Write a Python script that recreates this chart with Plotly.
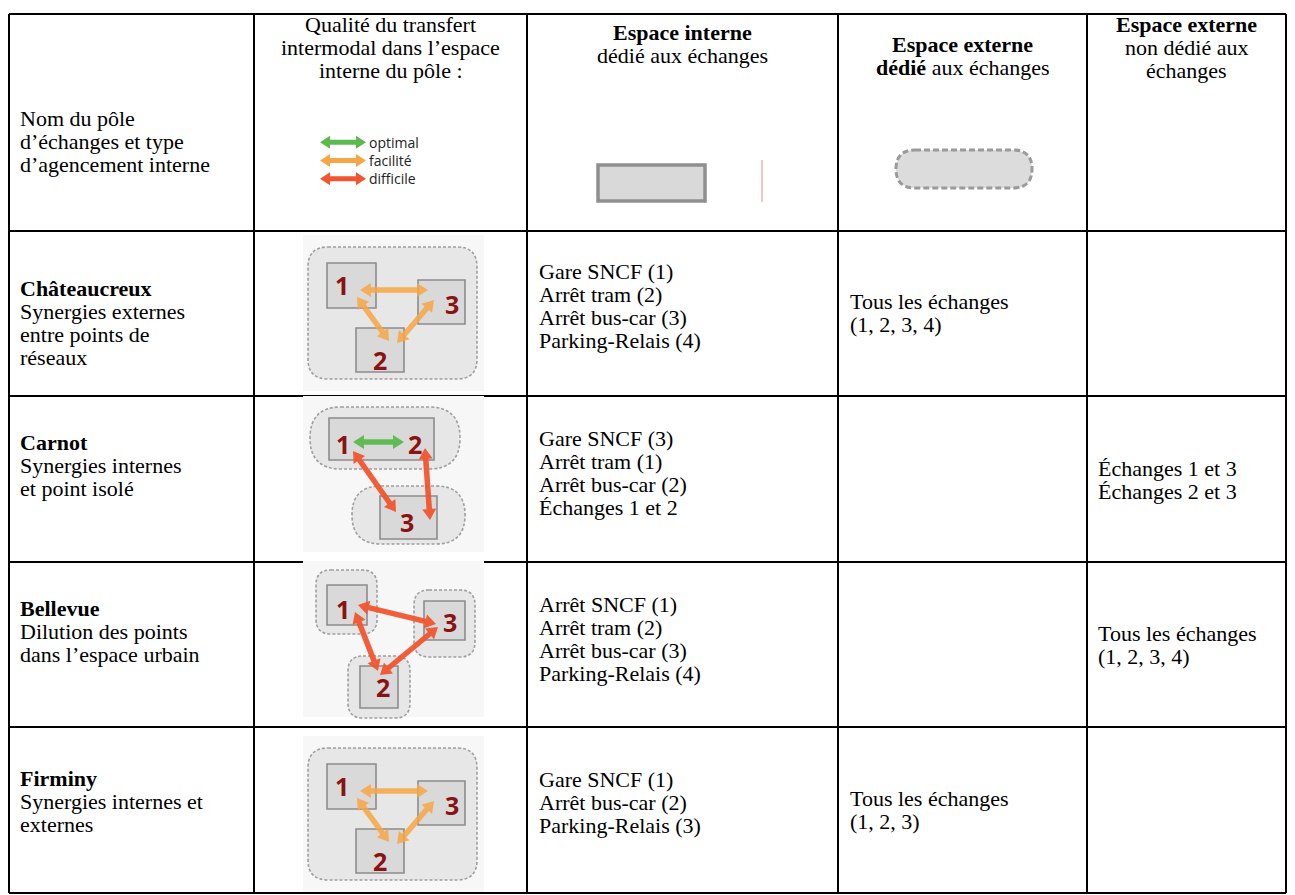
import math
import plotly.graph_objects as go

# ---------------- data ----------------
header_col1 = ["Nom du pôle", "d’échanges et type", "d’agencement interne"]
header_col2 = ["Qualité du transfert", "intermodal dans l’espace", "interne du pôle :"]
header_col3 = ["<b>Espace interne</b>", "dédié aux échanges"]
header_col4 = ["<b>Espace externe</b>", "<b>dédié</b> aux échanges"]
header_col5 = ["<b>Espace externe</b>", "non dédié aux", "échanges"]

legend_labels = ["optimal", "facilité", "difficile"]

pole_names = ["Châteaucreux", "Carnot", "Bellevue", "Firminy"]
pole_types = [
    ["Synergies externes", "entre points de", "réseaux"],
    ["Synergies internes", "et point isolé"],
    ["Dilution des points", "dans l’espace urbain"],
    ["Synergies internes et", "externes"],
]
espace_interne = [
    ["Gare SNCF (1)", "Arrêt tram (2)", "Arrêt bus-car (3)", "Parking-Relais (4)"],
    ["Gare SNCF (3)", "Arrêt tram (1)", "Arrêt bus-car (2)", "Échanges 1 et 2"],
    ["Arrêt SNCF (1)", "Arrêt tram (2)", "Arrêt bus-car (3)", "Parking-Relais (4)"],
    ["Gare SNCF (1)", "Arrêt bus-car (2)", "Parking-Relais (3)"],
]
espace_externe_dedie = [
    ["Tous les échanges", "(1, 2, 3, 4)"],
    [],
    [],
    ["Tous les échanges", "(1, 2, 3)"],
]
espace_externe_non_dedie = [
    [],
    ["Échanges 1 et 3", "Échanges 2 et 3"],
    ["Tous les échanges", "(1, 2, 3, 4)"],
    [],
]
# quality of each transfer link in each pole diagram
transfer_quality = [
    {"1-3": "facilité", "1-2": "facilité", "3-2": "facilité"},
    {"1-2": "optimal", "1-3": "difficile", "2-3": "difficile"},
    {"1-3": "difficile", "1-2": "difficile", "3-2": "difficile"},
    {"1-3": "facilité", "1-2": "facilité", "3-2": "facilité"},
]
diagram_layout = ["externe", "carnot", "dilution", "externe"]

# ---------------- styles / layout ----------------
W, H = 1295, 895
PAGE_OFF = 8  # default body margin of the html page
COL_X = [9, 254, 527, 838, 1087, 1286]
ROW_Y = [14, 231, 396, 562, 727, 893]
SERIF = "Liberation Serif"
FS = 22
LS = 23
# y of the first text line in each row, per column group
FIRST_Y_NAME = [288, 442, 608, 778]
FIRST_Y_INT = [271, 438, 604, 779]
FIRST_Y_EXT = [301, 468, 633, 798]

QUAL_COLOR = {"optimal": "#5bb94e", "facilité": "#f7a645", "difficile": "#f2552f"}
NUM_COLOR = "#8b1212"
BOX_FILL = "#d9d9d9"
BOX_LINE = "#8c8c8c"
AREA_FILL = "#e7e7e7"
AREA_LINE = "#9e9e9e"

fig = go.Figure()
shapes = []
annotations = []


def text_lines(lines, x, y0, anchor="left", size=FS, ls=LS, family=SERIF, color="black"):
    for i, t in enumerate(lines):
        annotations.append(dict(
            x=x, y=y0 + i * ls, xref="x", yref="y", text=t, showarrow=False,
            xanchor=anchor, yanchor="middle",
            font=dict(family=family, size=size, color=color),
        ))


def rrect_path(x0, y0, x1, y1, r):
    r = min(r, (x1 - x0) / 2, (y1 - y0) / 2)
    return (f"M{x0 + r},{y0} L{x1 - r},{y0} Q{x1},{y0} {x1},{y0 + r} "
            f"L{x1},{y1 - r} Q{x1},{y1} {x1 - r},{y1} L{x0 + r},{y1} "
            f"Q{x0},{y1} {x0},{y1 - r} L{x0},{y0 + r} Q{x0},{y0} {x0 + r},{y0} Z")


def arrow_path(x0, y0, x1, y1, w=5.5, hl=11, hw=14):
    dx, dy = x1 - x0, y1 - y0
    L = math.hypot(dx, dy)
    ux, uy = dx / L, dy / L
    nx, ny = -uy, ux
    ax0, ay0 = x0 + ux * hl, y0 + uy * hl
    ax1, ay1 = x1 - ux * hl, y1 - uy * hl
    pts = [
        (x0, y0),
        (ax0 + nx * hw / 2, ay0 + ny * hw / 2),
        (ax0 + nx * w / 2, ay0 + ny * w / 2),
        (ax1 + nx * w / 2, ay1 + ny * w / 2),
        (ax1 + nx * hw / 2, ay1 + ny * hw / 2),
        (x1, y1),
        (ax1 - nx * hw / 2, ay1 - ny * hw / 2),
        (ax1 - nx * w / 2, ay1 - ny * w / 2),
        (ax0 - nx * w / 2, ay0 - ny * w / 2),
        (ax0 - nx * hw / 2, ay0 - ny * hw / 2),
    ]
    return "M" + " L".join(f"{px:.1f},{py:.1f}" for px, py in pts) + " Z"


def add_area(ox, oy, x0, y0, x1, y1, r):
    shapes.append(dict(type="path", path=rrect_path(ox + x0, oy + y0, ox + x1, oy + y1, r),
                       fillcolor=AREA_FILL, line=dict(color=AREA_LINE, width=1.6, dash="3px,2px"),
                       xref="x", yref="y", layer="above"))


def add_box(ox, oy, x0, y0, x1, y1):
    shapes.append(dict(type="rect", x0=ox + x0, y0=oy + y0, x1=ox + x1, y1=oy + y1,
                       fillcolor=BOX_FILL, line=dict(color=BOX_LINE, width=1.6),
                       xref="x", yref="y", layer="above"))


def add_num(ox, oy, x, y, t):
    annotations.append(dict(x=ox + x, y=oy + y, xref="x", yref="y", text=f"<b>{t}</b>",
                            showarrow=False, xanchor="center", yanchor="middle",
                            font=dict(family="Open Sans", size=25, color=NUM_COLOR)))


def add_arrow(ox, oy, p0, p1, quality, opacity=0.9):
    shapes.append(dict(type="path",
                       path=arrow_path(ox + p0[0], oy + p0[1], ox + p1[0], oy + p1[1]),
                       fillcolor=QUAL_COLOR[quality], line=dict(width=0),
                       opacity=opacity, xref="x", yref="y", layer="above"))


# diagram geometry (pixels relative to picture origin)
GEOM = {
    "externe": dict(
        areas=[(5, 8, 174, 140, 20)],
        boxes=[(24, 24, 73, 69), (115, 41, 162, 85), (53, 89, 101, 133)],
        nums=[("1", 39, 46), ("3", 149, 65), ("2", 77, 121)],
        links={"1-3": ((57, 51), (125, 51)), "1-2": ((54, 58), (86, 102)),
               "3-2": ((131, 61), (94, 104))},
    ),
    "carnot": dict(
        areas=[(7, 7, 157, 69, 31), (49, 86, 162, 144, 29)],
        boxes=[(26, 18, 131, 60), (77, 96, 134, 139)],
        nums=[("1", 40, 44), ("2", 112, 44), ("3", 104, 122)],
        links={"1-2": ((50, 42), (101, 42)), "1-3": ((50, 51), (93, 112)),
               "2-3": ((122, 48), (127, 120))},
    ),
    "dilution": dict(
        areas=[(13, 5, 74, 69, 15), (111, 25, 172, 92, 15), (45, 91, 107, 153, 15)],
        boxes=[(24, 20, 64, 60), (121, 36, 162, 75), (57, 101, 95, 143)],
        nums=[("1", 40, 44), ("3", 147, 57), ("2", 80, 122)],
        links={"1-3": ((55, 40), (133, 59)), "1-2": ((52, 47), (75, 106)),
               "3-2": ((135, 62), (77, 110))},
    ),
}
DIAG_ORIGIN = [(303, 239), (303, 400), (303, 565), (303, 740)]

# ---------------- table grid ----------------
for x in COL_X:
    shapes.append(dict(type="line", x0=x, x1=x, y0=ROW_Y[0], y1=ROW_Y[-1],
                       line=dict(color="black", width=2), xref="x", yref="y"))
for y in ROW_Y:
    shapes.append(dict(type="line", x0=COL_X[0], x1=COL_X[-1], y0=y, y1=y,
                       line=dict(color="black", width=2), xref="x", yref="y"))

# ---------------- header ----------------
text_lines(header_col1, 18, 118)
cx2 = (COL_X[1] + COL_X[2]) / 2
text_lines(header_col2, cx2, 24, anchor="center")
cx3 = (COL_X[2] + COL_X[3]) / 2
text_lines(header_col3, cx3, 32, anchor="center")
cx4 = (COL_X[3] + COL_X[4]) / 2
text_lines(header_col4, cx4, 44, anchor="center")
cx5 = (COL_X[4] + COL_X[5]) / 2
text_lines(header_col5, cx5, 24, anchor="center")

# legend of transfer quality (one text block, arrows aligned on its lines)
LEG_FS = 14
LEG_LS = LEG_FS * 1.3
LEG_YC = 160.5
for i, lab in enumerate(legend_labels):
    yy = LEG_YC + (i - 1) * LEG_LS
    shapes.append(dict(type="path", path=arrow_path(320, yy, 366, yy, w=5, hl=10, hw=13),
                       fillcolor=QUAL_COLOR[lab], line=dict(width=0), xref="x", yref="y"))
annotations.append(dict(x=367, y=LEG_YC, xref="x", yref="y", text="<br>".join(legend_labels),
                        showarrow=False, xanchor="left", yanchor="middle", align="left",
                        font=dict(family="Open Sans", size=LEG_FS, color="#222222")))

# legend symbol: internal space
shapes.append(dict(type="rect", x0=598, y0=165, x1=705, y1=201, fillcolor=BOX_FILL,
                   line=dict(color="#8f8f8f", width=3.5), xref="x", yref="y"))
shapes.append(dict(type="line", x0=762, x1=762, y0=160, y1=202,
                   line=dict(color="#f08a8a", width=1), xref="x", yref="y"))
# legend symbol: external dedicated space
shapes.append(dict(type="path", path=rrect_path(896, 150, 1032, 188, 19), fillcolor="#dcdcdc",
                   line=dict(color="#9a9a9a", width=3, dash="6px,3px"), xref="x", yref="y"))

# ---------------- rows ----------------
for r in range(4):
    text_lines([f"<b>{pole_names[r]}</b>"] + pole_types[r], 18, FIRST_Y_NAME[r])
    text_lines(espace_interne[r], 537, FIRST_Y_INT[r])
    if espace_externe_dedie[r]:
        text_lines(espace_externe_dedie[r], 848, FIRST_Y_EXT[r])
    if espace_externe_non_dedie[r]:
        text_lines(espace_externe_non_dedie[r], 1096, FIRST_Y_EXT[r])

    ox, oy = DIAG_ORIGIN[r]
    g = GEOM[diagram_layout[r]]
    shapes.append(dict(type="rect", x0=ox, y0=oy - 4, x1=ox + 181, y1=oy + 152,
                       fillcolor="#f7f7f7", line=dict(width=0), xref="x", yref="y", layer="above"))
    for a in g["areas"]:
        add_area(ox, oy, *a)
    for b in g["boxes"]:
        add_box(ox, oy, *b)
    for t, x, y in g["nums"]:
        add_num(ox, oy, x, y, t)
    for key, q in transfer_quality[r].items():
        p0, p1 = g["links"][key]
        add_arrow(ox, oy, p0, p1, q, opacity=0.85 if q == "facilité" else 0.95)

fig.update_layout(
    width=W - PAGE_OFF, height=H - PAGE_OFF, margin=dict(l=0, r=0, t=0, b=0),
    paper_bgcolor="white", plot_bgcolor="white",
    xaxis=dict(range=[PAGE_OFF, W], visible=False, fixedrange=True),
    yaxis=dict(range=[H, PAGE_OFF], visible=False, fixedrange=True),
    shapes=shapes, annotations=annotations, showlegend=False,
)
fig.write_html("out.html")
